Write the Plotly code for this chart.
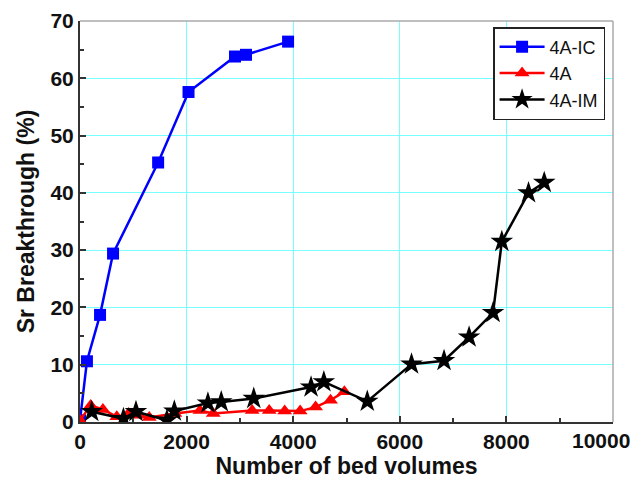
import plotly.graph_objects as go

# Sr breakthrough vs. number of bed volumes for three sorbents
ic_bv = [0, 130, 376, 620, 1466, 2036, 2908, 3114, 3904]
ic_sr = [0.3, 10.6, 18.7, 29.4, 45.3, 57.6, 63.8, 64.1, 66.4]

a_bv = [0, 200, 430, 690, 910, 1100, 1300, 1780, 2250, 2500, 3230, 3550, 3840, 4130, 4420, 4700, 4960]
a_sr = [0.3, 2.9, 2.2, 0.9, 1.5, 1.2, 0.8, 1.5, 2.0, 1.5, 2.0, 2.0, 1.9, 1.9, 2.6, 3.8, 5.3]

im_bv = [220, 815, 1050, 1630, 1770, 2400, 2650, 3260, 4335, 4575, 5390, 6220, 6830, 7300, 7750, 7914, 8415, 8710]
im_sr = [1.8, 0.6, 1.8, 0.3, 1.9, 3.3, 3.5, 4.1, 6.1, 7.0, 3.6, 10.1, 10.7, 14.8, 19.1, 31.5, 40.0, 41.8]

x_ticks = [0, 2000, 4000, 6000, 8000, 10000]
y_ticks = [0, 10, 20, 30, 40, 50, 60, 70]

FONT = "Liberation Sans, Arial, sans-serif"
TICK_FONT = dict(family=FONT, size=21, color="#111111", weight="bold")

fig = go.Figure()
fig.add_trace(go.Scatter(
    x=ic_bv, y=ic_sr, name="4A-IC", mode="lines+markers",
    line=dict(color="#0000ff", width=2.5),
    marker=dict(symbol="square", size=12, color="#0000ff"),
))
fig.add_trace(go.Scatter(
    x=a_bv, y=a_sr, name="4A", mode="lines+markers",
    line=dict(color="#ff0000", width=2.5),
    marker=dict(symbol="triangle-up", size=13, color="#ff0000"),
))
fig.add_trace(go.Scatter(
    x=im_bv, y=im_sr, name="4A-IM", mode="lines+markers",
    line=dict(color="#000000", width=2.5),
    marker=dict(symbol="star", size=17, color="#000000"),
))

axis_common = dict(
    showgrid=True, gridcolor="rgb(120,255,255)", gridwidth=1,
    zeroline=False, showline=True, linecolor="#333333", linewidth=2,
    ticks="inside", ticklen=6, tickwidth=1.5, tickcolor="#333333",
    tickfont=TICK_FONT,
)

# the last x label sits flush with the right edge of the canvas,
# so it is drawn as an annotation nudged left of its tick
x_text = [str(v) for v in x_ticks[:-1]] + [""]

fig.update_layout(
    width=634, height=488,
    paper_bgcolor="white", plot_bgcolor="white",
    margin=dict(l=80, r=21, t=21, b=66),
    font=dict(family=FONT, color="#111111"),
    xaxis=dict(
        range=[0, 10000], tickvals=x_ticks, ticktext=x_text,
        automargin="bottom",
        minor=dict(ticks="inside", dtick=1000, ticklen=4, tickcolor="#333333", showgrid=False),
        title=dict(text="Number of bed volumes", standoff=6,
                   font=dict(family=FONT, size=23, weight="bold")),
        **axis_common,
    ),
    yaxis=dict(
        range=[0, 70], tickvals=y_ticks,
        automargin="left",
        minor=dict(ticks="inside", dtick=5, ticklen=4, tickcolor="#333333", showgrid=False),
        title=dict(text="Sr Breakthrough (%)", standoff=9,
                   font=dict(family=FONT, size=23, weight="bold")),
        **axis_common,
    ),
    legend=dict(
        x=0.775, y=0.985, xanchor="left", yanchor="top",
        bgcolor="white", bordercolor="#222222", borderwidth=1.5,
        font=dict(family=FONT, size=18, color="#111111"),
        itemwidth=45, tracegroupgap=0,
    ),
    annotations=[
        dict(text=str(x_ticks[-1]), x=x_ticks[-1], xref="x", y=0, yref="paper",
             xanchor="center", yanchor="top", xshift=-12, yshift=-5,
             showarrow=False, font=TICK_FONT),
    ],
    shapes=[
        dict(type="line", xref="paper", yref="paper", x0=0, x1=1, y0=1, y1=1,
             line=dict(color="#aaaaaa", width=1.5)),
        dict(type="line", xref="paper", yref="paper", x0=1, x1=1, y0=0, y1=1,
             line=dict(color="#aaaaaa", width=1.5)),
    ],
)

fig.write_html("out.html")
